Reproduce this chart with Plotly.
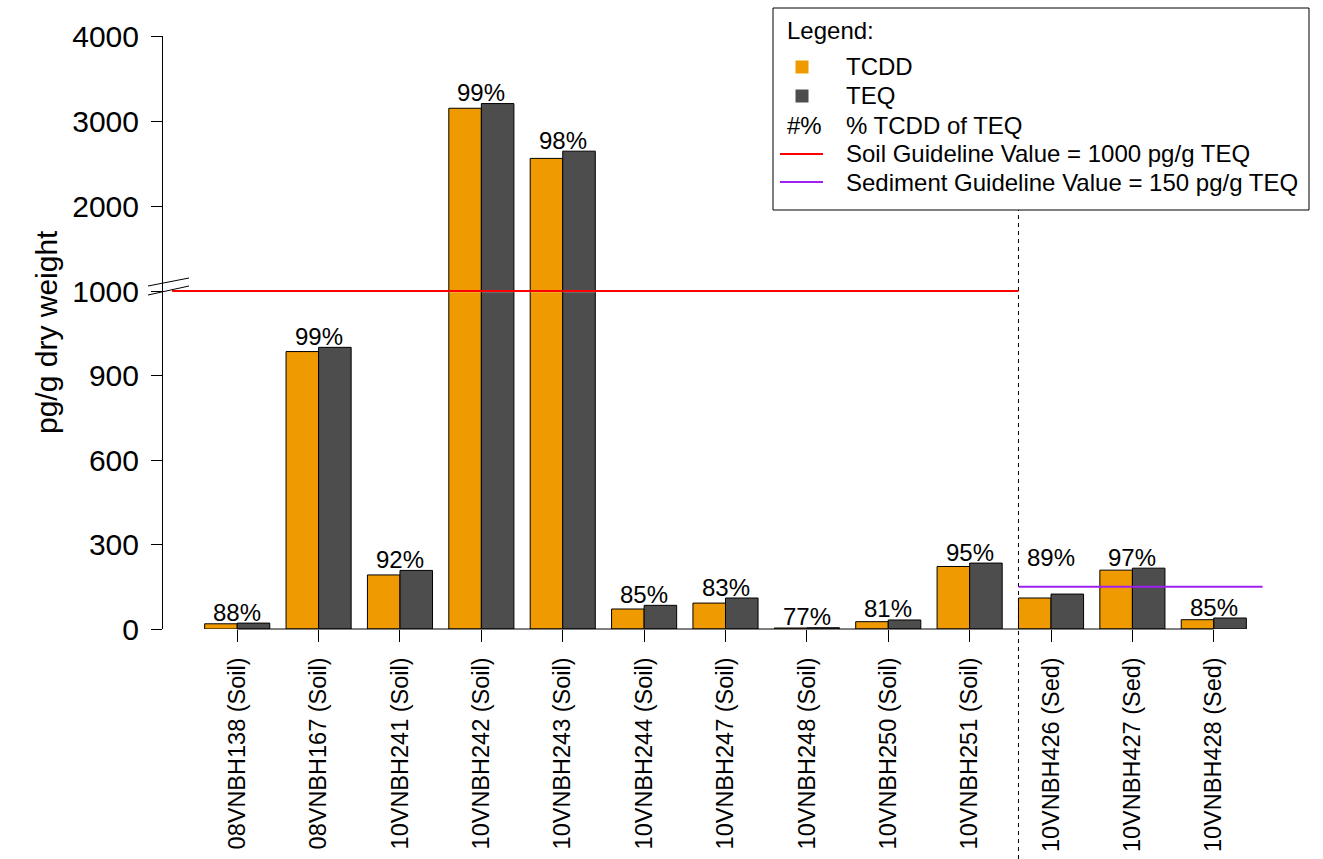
import plotly.graph_objects as go

# ---- data -------------------------------------------------------------
samples = ["08VNBH138 (Soil)", "08VNBH167 (Soil)", "10VNBH241 (Soil)",
           "10VNBH242 (Soil)", "10VNBH243 (Soil)", "10VNBH244 (Soil)",
           "10VNBH247 (Soil)", "10VNBH248 (Soil)", "10VNBH250 (Soil)",
           "10VNBH251 (Soil)", "10VNBH426 (Sed)", "10VNBH427 (Sed)",
           "10VNBH428 (Sed)"]
tcdd = [18.5, 985, 192, 3150, 2560, 71, 92, 3.5, 26, 222, 110, 209, 33]
teq = [21, 1000, 208, 3205, 2645, 84, 110, 4.5, 32, 234, 124, 216, 39]
pct_labels = ["88%", "99%", "92%", "99%", "98%", "85%", "83%", "77%",
              "81%", "95%", "89%", "97%", "85%"]
sample_type = ["Soil"] * 10 + ["Sed"] * 3

SOIL_GUIDE = 1000
SED_GUIDE = 150
lower_ticks = [0, 300, 600, 900]
upper_ticks = [1000, 2000, 3000, 4000]

# ---- styling ----------------------------------------------------------
FONT = "Liberation Sans, Arial, sans-serif"
C_TCDD = "#EE9A00"
C_TEQ = "#4D4D4D"
C_SOIL = "#FF0000"
C_SED = "#A020F0"

W, H = 1323, 859
ML, MR, MT, MB = 163, 35, 36, 230
PW, PH = W - ML - MR, H - MT - MB

LOW_RANGE = [0, 1200]
UP_RANGE = [980, 4000]
LOW_TOP = 0.56998          # break position (fraction of plot height)
UP_BOTTOM = 0.56712


def px(x, y):
    """pixel position -> paper coordinates"""
    return (x - ML) / PW, (H - MB - y) / PH


def above_break(values):
    return [v if v > LOW_RANGE[1] else None for v in values]


fig = go.Figure()

# lower half of the broken axis
fig.add_trace(go.Bar(x=samples, y=tcdd, yaxis="y", name="TCDD",
                     marker=dict(color=C_TCDD, line=dict(color="black", width=1))))
fig.add_trace(go.Bar(x=samples, y=teq, yaxis="y", name="TEQ",
                     marker=dict(color=C_TEQ, line=dict(color="black", width=1))))
# upper half: only the samples that reach past the break
fig.add_trace(go.Bar(x=samples, y=above_break(tcdd), yaxis="y2", name="TCDD",
                     marker=dict(color=C_TCDD, line=dict(color="black", width=1))))
fig.add_trace(go.Bar(x=samples, y=above_break(teq), yaxis="y2", name="TEQ",
                     marker=dict(color=C_TEQ, line=dict(color="black", width=1))))

shapes = []
annotations = []

# x baseline between first and last tick
shapes.append(dict(type="line", xref="x", yref="paper", x0=0, x1=len(samples) - 1,
                   y0=0, y1=0, line=dict(color="black", width=1)))

# boundary between soil and sediment samples
n_soil = sample_type.count("Soil")
edge = n_soil - 0.4
shapes.append(dict(type="line", xref="x", yref="paper", x0=edge, x1=edge,
                   y0=px(0, H)[1], y1=px(0, 210)[1],
                   line=dict(color="black", width=1, dash="4px,4px")))

# guideline values
shapes.append(dict(type="line", xref="x", yref="y2", x0=-0.8, x1=edge,
                   y0=SOIL_GUIDE, y1=SOIL_GUIDE, line=dict(color=C_SOIL, width=2)))
shapes.append(dict(type="line", xref="x", yref="y", x0=edge, x1=len(samples) - 0.4,
                   y0=SED_GUIDE, y1=SED_GUIDE, line=dict(color=C_SED, width=2)))

# axis break slashes
for y0, y1 in ((286, 278), (295, 286)):
    a = px(148, y0)
    b = px(189, y1)
    shapes.append(dict(type="line", xref="paper", yref="paper", x0=a[0], y0=a[1],
                       x1=b[0], y1=b[1], line=dict(color="black", width=1)))

# percentage labels above each pair of bars
for i, s in enumerate(samples):
    top = max(tcdd[i], teq[i])
    yref = "y2" if top > LOW_RANGE[1] else "y"
    y, shift = top, -4.5
    if sample_type[i] == "Sed" and 0 < SED_GUIDE - top < 90:
        # lift the label clear of the sediment guideline
        y, shift = SED_GUIDE, 14
    annotations.append(dict(x=s, y=y, xref="x", yref=yref, text=pct_labels[i],
                            showarrow=False, yanchor="bottom", yshift=shift,
                            font=dict(size=24, color="black", family=FONT)))

# y axis title
tx, ty = px(46, 332)
annotations.append(dict(x=tx, y=ty, xref="paper", yref="paper", text="pg/g dry weight",
                        textangle=-90, showarrow=False, xanchor="center", yanchor="middle",
                        font=dict(size=30, color="black", family=FONT)))

# ---- legend box -------------------------------------------------------
a = px(773, 8)
b = px(1309, 210)
shapes.append(dict(type="rect", xref="paper", yref="paper", x0=a[0], y0=b[1],
                   x1=b[0], y1=a[1], fillcolor="white",
                   line=dict(color="black", width=1), layer="above"))

LEG_FS = 24
def leg_text(x, y, text):
    p = px(x, y)
    annotations.append(dict(x=p[0], y=p[1], xref="paper", yref="paper", text=text,
                            showarrow=False, xanchor="left", yanchor="middle",
                            font=dict(size=LEG_FS, color="black", family=FONT)))

leg_text(785, 31, "Legend:")
for (cy, col, label) in ((67, C_TCDD, "TCDD"), (96, C_TEQ, "TEQ")):
    p0 = px(795.5, cy + 6.5)
    p1 = px(808.5, cy - 6.5)
    shapes.append(dict(type="rect", xref="paper", yref="paper", x0=p0[0], y0=p0[1],
                       x1=p1[0], y1=p1[1], fillcolor=col, line=dict(width=0),
                       layer="above"))
    leg_text(844, cy - 0.5, label)
leg_text(785, 125.5, "#%")
leg_text(844, 125.5, "% TCDD of TEQ")
for (cy, col, label) in ((154, C_SOIL, "Soil Guideline Value = 1000 pg/g TEQ"),
                         (182, C_SED, "Sediment Guideline Value = 150 pg/g TEQ")):
    p0 = px(780, cy)
    p1 = px(823, cy)
    shapes.append(dict(type="line", xref="paper", yref="paper", x0=p0[0], y0=p0[1],
                       x1=p1[0], y1=p1[1], line=dict(color=col, width=2), layer="above"))
    leg_text(844, cy, label)

yaxis_common = dict(showline=True, linecolor="black", linewidth=1, ticks="outside",
                    ticklen=11, tickwidth=1, tickcolor="black", showgrid=False,
                    zeroline=False, ticklabelstandoff=6, automargin=False,
                    tickfont=dict(size=30, color="black", family=FONT))

fig.update_layout(
    width=W, height=H,
    margin=dict(l=ML, r=MR, t=MT, b=MB),
    paper_bgcolor="white", plot_bgcolor="white",
    barmode="group", bargap=0.2, bargroupgap=0,
    showlegend=False,
    xaxis=dict(type="category", range=[-0.912, 12.912], ticks="outside", ticklen=12,
               tickwidth=1, tickcolor="black", showline=False, showgrid=False,
               zeroline=False, tickangle=-90, ticklabelstandoff=6, automargin=False,
               tickfont=dict(size=23.5, color="black", family=FONT)),
    yaxis=dict(domain=[0, LOW_TOP], range=LOW_RANGE, tickvals=lower_ticks,
               **yaxis_common),
    yaxis2=dict(domain=[UP_BOTTOM, 1], range=UP_RANGE, tickvals=upper_ticks,
                anchor="x", **yaxis_common),
    shapes=shapes,
    annotations=annotations,
)

fig.write_html("out.html")
